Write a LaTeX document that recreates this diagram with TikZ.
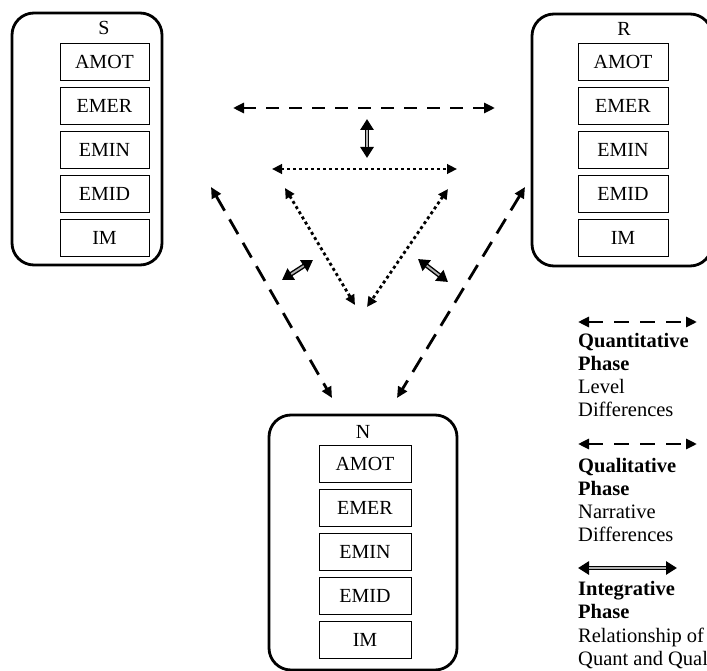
\documentclass[tikz,border=0pt]{standalone}
\usepackage{fontspec}
\setmainfont{Liberation Serif}
\usetikzlibrary{arrows.meta}

\begin{document}
\begin{tikzpicture}[x=1pt, y=-1pt,
  group/.style={draw, line width=2.8pt, rounded corners=22pt, inner sep=0pt},
  item/.style={draw, line width=0.9pt, minimum width=90pt, minimum height=37pt,
    inner sep=0pt, font=\fontsize{20}{24}\selectfont},
  glabel/.style={inner sep=0pt, font=\fontsize{20}{24}\selectfont},
  quant/.style={line width=2.8pt, dash pattern=on 13pt off 10pt,
    >={Triangle[length=11pt,width=10pt]}, <->},
  quantdiag/.style={quant, dash pattern=on 17pt off 10pt},
  qual/.style={line width=2.8pt, dash pattern=on 3pt off 3pt,
    >={Triangle[length=10pt,width=9.5pt]}, <->},
  integ/.style={line width=4.6pt, >={Triangle[length=11pt,width=13pt]}, <->},
  integcore/.style={line width=1.8pt, black!30, shorten <=11pt, shorten >=11pt},
  legtext/.style={anchor=base west, inner sep=0pt, font=\fontsize{20.5}{23}\selectfont}
]
\useasboundingbox (0,0) rectangle (707,671);
\clip (0,0) rectangle (707,671);

% the three groups
\node[group, minimum width=150pt, minimum height=252pt] (S) at (87,139) {};
\node[group, minimum width=180pt, minimum height=252pt] (R) at (622,140) {};
\node[group, minimum width=188pt, minimum height=255pt] (N) at (363,542.5) {};

\node[glabel] (S-lbl) at (104,28) {S};
\node[glabel] (R-lbl) at (624,29) {R};
\node[glabel] (N-lbl) at (363,432) {N};

% the five measures inside each group
\foreach \g/\x/\y/\w in {S/104.5/62/89, R/623/62/90, N/365/463.5/92}{
  \foreach \t [count=\i from 0] in {AMOT,EMER,EMIN,EMID,IM}
    \node[item, minimum width=\w pt] (\g-\t) at (\x,{\y+44*\i}) {\t};
}

% end points of the connectors
\coordinate (q1a) at (233,108);  \coordinate (q1b) at (495,108);
\coordinate (q2a) at (211,187);  \coordinate (q2b) at (332,398);
\coordinate (q3a) at (525,187);  \coordinate (q3b) at (397,398);
\coordinate (l1a) at (272,169);  \coordinate (l1b) at (457,169);
\coordinate (l2a) at (285,188);  \coordinate (l2b) at (355,305);
\coordinate (l3a) at (448,189);  \coordinate (l3b) at (367,307);
\coordinate (i1a) at (367,119);  \coordinate (i1b) at (367,158);
\coordinate (i2a) at (282,280);  \coordinate (i2b) at (313,260);
\coordinate (i3a) at (418,259);  \coordinate (i3b) at (448,282);

% quantitative phase (dashed)
\draw[quant] (q1a) -- (q1b);
\draw[quantdiag] (q2a) -- (q2b);
\draw[quantdiag] (q3a) -- (q3b);

% qualitative phase (dotted)
\draw[qual] (l1a) -- (l1b);
\draw[qual] (l2a) -- (l2b);
\draw[qual] (l3a) -- (l3b);

% integrative phase (double)
\foreach \p in {i1,i2,i3}{
  \draw[integ] (\p a) -- (\p b);
  \draw[integcore] (\p a) -- (\p b);
}

% legend
\coordinate (k1a) at (578,322); \coordinate (k1b) at (697,322);
\coordinate (k2a) at (578,444); \coordinate (k2b) at (697,444);
\coordinate (k3a) at (578,568); \coordinate (k3b) at (677,568);
\draw[quant, dash pattern=on 15pt off 11pt] (k1a) -- (k1b);
\draw[quant, dash pattern=on 15pt off 11pt] (k2a) -- (k2b);
\draw[integ] (k3a) -- (k3b);
\draw[integcore] (k3a) -- (k3b);

\node[legtext] (t11) at (578,347) {\textbf{Quantitative}};
\node[legtext] (t12) at (578,370) {\textbf{Phase}};
\node[legtext] (t13) at (578,393) {Level};
\node[legtext] (t14) at (578,416) {Differences};

\node[legtext] (t21) at (578,472) {\textbf{Qualitative}};
\node[legtext] (t22) at (578,495) {\textbf{Phase}};
\node[legtext] (t23) at (578,518) {Narrative};
\node[legtext] (t24) at (578,541) {Differences};

\node[legtext] (t31) at (578,595) {\textbf{Integrative}};
\node[legtext] (t32) at (578,618) {\textbf{Phase}};
\node[legtext] (t33) at (578,642) {Relationship of};
\node[legtext] (t34) at (578,665) {Quant and Qual};
\end{tikzpicture}
\end{document}
